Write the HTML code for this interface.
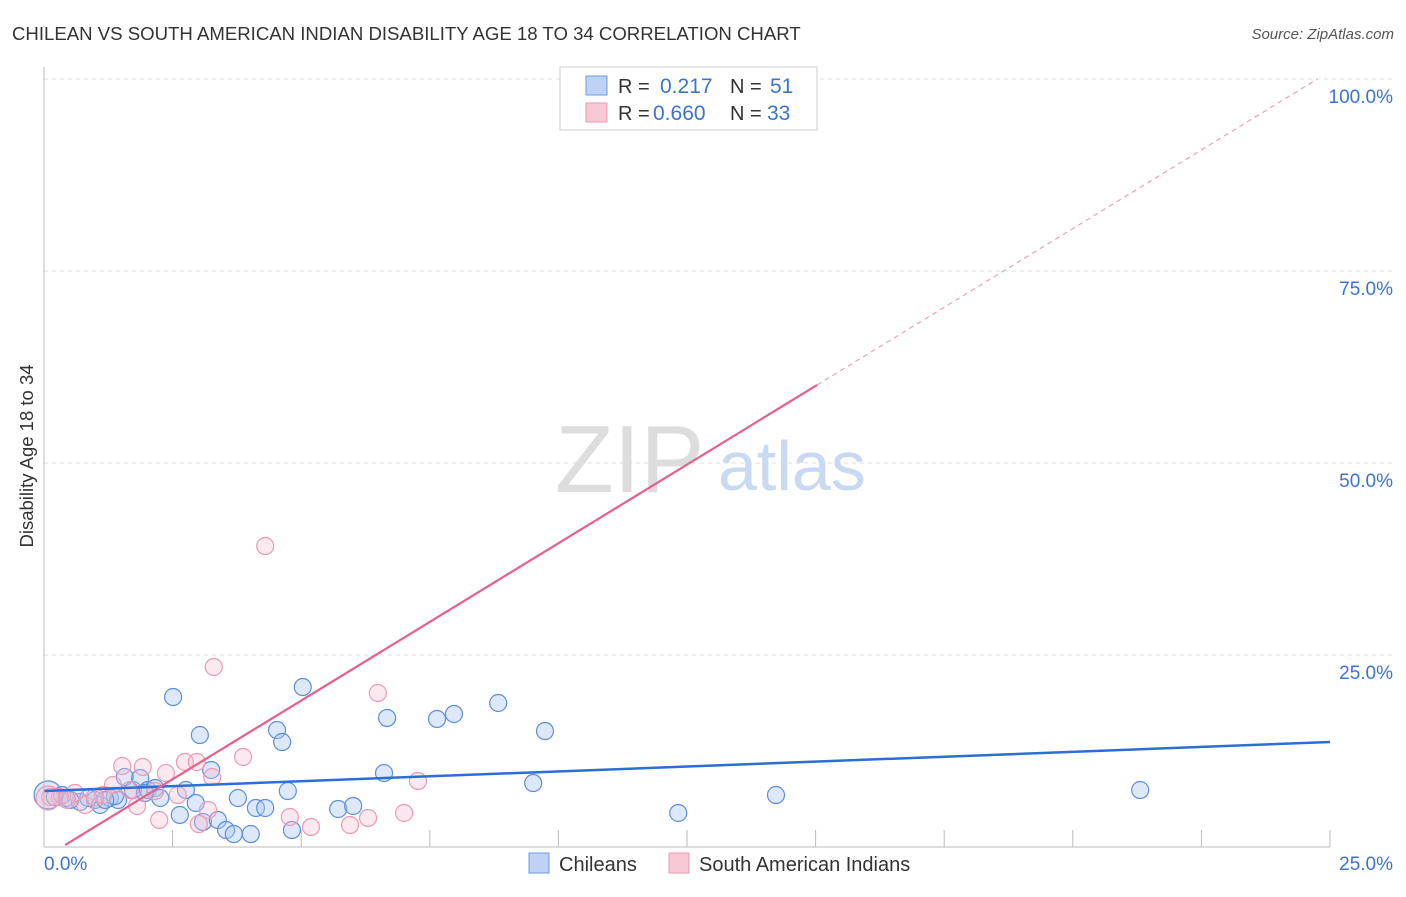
<!DOCTYPE html>
<html><head><meta charset="utf-8"><style>
body{margin:0;background:#fff;font-family:"Liberation Sans",sans-serif;}
svg text{font-family:"Liberation Sans",sans-serif;}
</style></head><body>
<svg id="chart" width="1406" height="892">
<text x="12" y="40" font-size="18.6" fill="#333">CHILEAN VS SOUTH AMERICAN INDIAN DISABILITY AGE 18 TO 34 CORRELATION CHART</text>
<text x="1394" y="39" font-size="15" fill="#555" font-style="italic" text-anchor="end">Source: ZipAtlas.com</text>
<text x="33" y="456" font-size="18.5" fill="#333" transform="rotate(-90 33 456)" text-anchor="middle">Disability Age 18 to 34</text>
<g id="grid"></g>
<text x="555" y="492" font-size="96" fill="#ddd" font-family="Liberation Serif">ZIP</text>
<text x="718" y="490" font-size="70" fill="#c8daf2">atlas</text>
<g id="marks"></g>
<g id="lines"></g>
<line x1="44" y1="67" x2="44" y2="847" stroke="#bbb"/>
<line x1="44" y1="847" x2="1330" y2="847" stroke="#bbb"/>
<text x="44" y="870" font-size="19" fill="#3b74d0">0.0%</text>
<text x="1393" y="870" font-size="19" fill="#3b74d0" text-anchor="end">25.0%</text>
<g>
<rect x="560" y="67" width="257" height="63" fill="#fff" stroke="#ccc"/>
<rect x="586" y="76" width="21" height="19" fill="#bcd3f5" stroke="#6f9be0"/>
<rect x="586" y="103" width="21" height="19" fill="#f9c8d5" stroke="#ec9ab0"/>
<text x="618" y="93" font-size="20" fill="#333">R = </text><text x="660" y="93" font-size="21" fill="#3b74d0">0.217</text>
<text x="730" y="93" font-size="20" fill="#333">N = </text><text x="770" y="93" font-size="21" fill="#3b74d0">51</text>
<text x="618" y="120" font-size="20" fill="#333">R = </text><text x="653" y="120" font-size="21" fill="#3b74d0">0.660</text>
<text x="730" y="120" font-size="20" fill="#333">N = </text><text x="767" y="120" font-size="21" fill="#3b74d0">33</text>
</g>
<g>
<rect x="529" y="853" width="20" height="20" fill="#bcd3f5" stroke="#6f9be0"/>
<text x="559" y="871" font-size="20" fill="#333">Chileans</text>
<rect x="669" y="853" width="20" height="20" fill="#f9c8d5" stroke="#ec9ab0"/>
<text x="699" y="871" font-size="20" fill="#333">South American Indians</text>
</g>
</svg>
<script>
const yTicks=[25,50,75,100];
const yTickLabels=["25.0%","50.0%","75.0%","100.0%"];
const xTickVals=[2.5,5,7.5,10,12.5,15,17.5,20,22.5,25];
const blueX=[0.08,0.21,0.43,0.70,0.99,1.09,1.28,1.44,1.57,1.73,1.87,2.02,2.16,2.26,2.51,2.64,2.76,2.95,3.03,3.25,3.09,3.38,3.54,3.69,3.77,4.02,4.12,4.30,4.53,4.63,4.74,4.82,5.03,5.72,6.01,6.61,6.67,7.64,7.97,8.83,9.51,9.74,12.33,14.23,21.31,0.35,0.86,1.38,0.51,1.19,1.96];
const blueY=[6.77,6.51,6.38,5.86,6.12,5.47,6.38,6.12,9.11,7.42,8.98,7.42,7.68,6.38,19.53,4.17,7.42,5.73,14.58,10.03,3.26,3.52,2.21,1.69,6.38,1.69,5.08,5.08,15.23,13.67,7.29,2.21,20.83,4.95,5.34,9.63,16.80,16.67,17.32,18.75,8.33,15.10,4.43,6.77,7.42,6.77,6.38,6.64,6.12,6.12,7.03];
const pinkX=[13.76,4.30,3.30,6.49,3.87,3.27,2.74,2.97,1.92,1.52,2.37,2.16,7.27,7.00,6.30,5.95,5.19,4.78,3.01,2.24,1.81,1.34,1.15,0.80,0.60,0.31,0.12,3.19,1.67,0.99,0.45,2.60,0.08];
const pinkY=[99.9,39.19,23.44,20.05,11.72,9.11,11.07,11.07,10.42,10.55,9.63,7.29,8.59,4.43,3.78,2.86,2.60,3.91,2.99,3.52,5.34,8.07,6.77,5.47,7.03,6.51,6.51,4.82,7.42,6.51,6.12,6.77,6.38];
const blueTrend=[7.29,13.67];
const pinkSlope=4.097, pinkIntercept=-1.42, pinkSolidEnd=15.03;
const X=v=>44+v/25*1286, Y=v=>847-v*7.68;
const NS="http://www.w3.org/2000/svg";
function mk(t,a,p){const e=document.createElementNS(NS,t);for(const k in a)e.setAttribute(k,a[k]);p.appendChild(e);return e;}
const grid=document.getElementById('grid');
yTicks.forEach((t,i)=>{
 const l=mk('line',{x1:44,x2:1394,y1:Y(t),y2:Y(t),stroke:'#ddd','stroke-dasharray':'4 4'},grid);
 
 
 const tx=mk('text',{x:1393,y:Y(t)+24,'font-size':19,fill:'#3b74d0','text-anchor':'end'},grid);
 tx.textContent=yTickLabels[i];
 
 
});
xTickVals.forEach(v=>{
 const l=mk('line',{x1:X(v),x2:X(v),y1:830,y2:847,stroke:'#bbb'},grid);
 
 
});
const marks=document.getElementById('marks');
blueX.forEach((x,i)=>{
 const c=mk('circle',{cx:X(x),cy:Y(blueY[i]),r:i==0?14:8.5,fill:'rgba(170,200,242,0.4)',stroke:'#5b8fdc','stroke-width':1.2},marks);
 
 
});
pinkX.forEach((x,i)=>{
 const c=mk('circle',{cx:X(x),cy:Y(pinkY[i]),r:i==32?12:8.5,fill:'rgba(247,190,208,0.35)',stroke:'#ee9ab2','stroke-width':1.2},marks);
 
 
});
const lines=document.getElementById('lines');
const bl=mk('line',{x1:X(0),y1:Y(blueTrend[0]),x2:X(25),y2:Y(blueTrend[1]),stroke:'#2a6fd6','stroke-width':2.5},lines);


const x0=0.41;
const pl=mk('line',{x1:X(x0),y1:Y(pinkSlope*x0+pinkIntercept),x2:X(pinkSolidEnd),y2:Y(pinkSlope*pinkSolidEnd+pinkIntercept),stroke:'#e8608a','stroke-width':2.2},lines);


const xe=(100-pinkIntercept)/pinkSlope;
const pd=mk('line',{x1:X(pinkSolidEnd),y1:Y(pinkSlope*pinkSolidEnd+pinkIntercept),x2:X(xe),y2:Y(100),stroke:'#eea0b8','stroke-width':1.2,'stroke-dasharray':'5 4'},lines);


</script>
</body></html>
